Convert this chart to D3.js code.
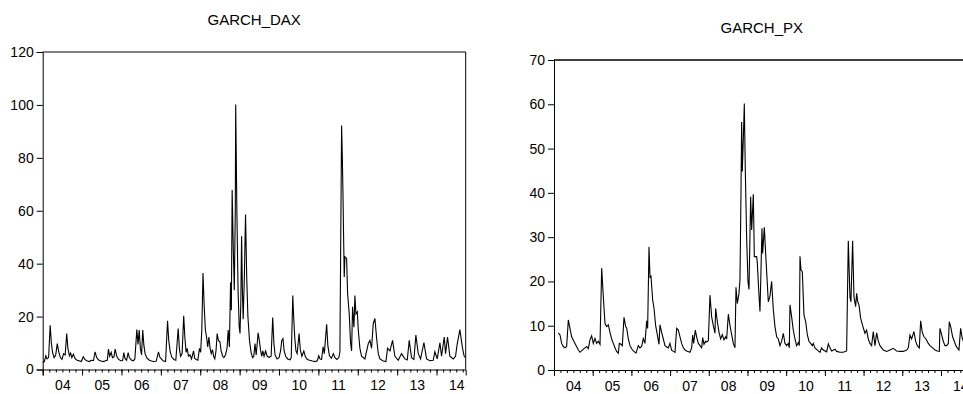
<!DOCTYPE html>
<html>
<head>
<meta charset="utf-8">
<script src="https://cdn.jsdelivr.net/npm/d3@7"></script>
<style>
  html, body { margin: 0; padding: 0; background: #fff; }
  svg { display: block; }
</style>
</head>
<body>
<svg id="chart" width="963" height="394"></svg>
<script>
// year labels on the time axis
const yearLabels = ['04', '05', '06', '07', '08', '09', '10', '11', '12', '13', '14'];
const daxTicks = [0, 20, 40, 60, 80, 100, 120];
const pxTicks = [0, 10, 20, 30, 40, 50, 60, 70];

// [decimal year, conditional variance]
const daxSeries = [
  [2004.00, 2.6], [2004.04, 3.0], [2004.08, 5.2], [2004.11, 4.0], [2004.15, 4.5], [2004.19, 16.7],
  [2004.22, 10], [2004.25, 6.5], [2004.29, 4.5], [2004.33, 5.5], [2004.37, 9.8], [2004.41, 6.5],
  [2004.45, 4.5], [2004.49, 3.8], [2004.53, 6.0], [2004.57, 5.5], [2004.61, 13.6], [2004.64, 8],
  [2004.68, 5.2], [2004.71, 6.2], [2004.74, 4.5], [2004.78, 5.8], [2004.82, 4.2], [2004.86, 3.6],
  [2004.92, 3.3], [2004.98, 3.0], [2005.03, 4.8], [2005.07, 3.8], [2005.12, 3.3], [2005.18, 3.0],
  [2005.24, 3.5], [2005.29, 3.4], [2005.33, 6.7], [2005.37, 4.5], [2005.42, 3.6], [2005.48, 3.2],
  [2005.54, 3.0], [2005.60, 3.3], [2005.64, 3.5], [2005.67, 7.7], [2005.70, 5.0], [2005.74, 6.5],
  [2005.77, 4.5], [2005.81, 4.8], [2005.84, 7.7], [2005.88, 5.0], [2005.93, 3.8], [2005.98, 3.3],
  [2006.03, 3.4], [2006.06, 6.4], [2006.09, 4.2], [2006.13, 3.5], [2006.17, 6.4], [2006.20, 4.5],
  [2006.25, 3.6], [2006.30, 3.3], [2006.34, 4.0], [2006.39, 15.1], [2006.42, 9.5], [2006.45, 14.9],
  [2006.48, 8.0], [2006.51, 5.5], [2006.54, 14.9], [2006.57, 9], [2006.60, 6.0], [2006.64, 4.5],
  [2006.70, 3.6], [2006.76, 3.2], [2006.82, 3.0], [2006.88, 3.1], [2006.94, 6.7], [2006.97, 4.8],
  [2007.02, 3.8], [2007.07, 3.2], [2007.12, 3.0], [2007.17, 18.4], [2007.20, 11], [2007.24, 6.5],
  [2007.28, 4.6], [2007.33, 3.8], [2007.38, 3.5], [2007.44, 15.5], [2007.47, 8], [2007.50, 5],
  [2007.54, 6], [2007.58, 20.3], [2007.61, 12], [2007.64, 6.5], [2007.67, 8], [2007.70, 5.0],
  [2007.74, 5.5], [2007.78, 4.0], [2007.83, 7.0], [2007.86, 4.2], [2007.90, 3.8], [2007.94, 3.5],
  [2007.98, 8], [2008.01, 6.5], [2008.04, 15], [2008.07, 36.5], [2008.10, 24], [2008.13, 15],
  [2008.16, 12.3], [2008.19, 8.5], [2008.22, 12.3], [2008.25, 8], [2008.28, 6], [2008.31, 7.5],
  [2008.34, 5], [2008.37, 4], [2008.40, 7], [2008.43, 13.6], [2008.46, 11], [2008.50, 10.5],
  [2008.53, 7], [2008.57, 5], [2008.60, 4.5], [2008.64, 5.5], [2008.68, 8], [2008.71, 14.9],
  [2008.74, 8.5], [2008.77, 33], [2008.79, 22.4], [2008.81, 67.8], [2008.84, 45], [2008.865, 30],
  [2008.89, 60], [2008.90, 100.2], [2008.93, 60], [2008.96, 30], [2008.99, 16], [2009.01, 13.6],
  [2009.03, 25], [2009.05, 50.4], [2009.07, 30], [2009.09, 19], [2009.12, 35], [2009.15, 58.6],
  [2009.18, 35], [2009.21, 20], [2009.25, 11], [2009.29, 6.5], [2009.33, 4.5], [2009.36, 5],
  [2009.39, 9.8], [2009.42, 5.5], [2009.47, 13.9], [2009.50, 11], [2009.53, 7.5], [2009.56, 5],
  [2009.59, 7], [2009.62, 5], [2009.66, 7], [2009.70, 5], [2009.75, 4.6], [2009.80, 5.0],
  [2009.84, 19.6], [2009.87, 10], [2009.90, 5.5], [2009.95, 4.0], [2010.00, 4.5], [2010.04, 7],
  [2010.07, 11], [2010.10, 11.7], [2010.13, 7], [2010.17, 5], [2010.22, 4.0], [2010.28, 3.7],
  [2010.31, 4.5], [2010.35, 28], [2010.37, 20.5], [2010.40, 12], [2010.43, 7], [2010.46, 6],
  [2010.51, 13.6], [2010.54, 7.5], [2010.58, 5], [2010.63, 7], [2010.67, 4.8], [2010.72, 3.8],
  [2010.78, 3.5], [2010.85, 3.2], [2010.92, 3.0], [2010.97, 3.3], [2011.01, 5.2], [2011.04, 4.0],
  [2011.08, 3.8], [2011.12, 8.6], [2011.15, 6], [2011.21, 17.1], [2011.24, 9], [2011.28, 5.2],
  [2011.33, 4.3], [2011.38, 6], [2011.42, 4.5], [2011.47, 3.8], [2011.52, 4.5], [2011.546, 6.7],
  [2011.589, 92.2], [2011.606, 81.4], [2011.623, 67.2], [2011.64, 50], [2011.656, 35], [2011.673, 42.6],
  [2011.716, 42], [2011.741, 28.8], [2011.783, 21], [2011.817, 10], [2011.843, 7], [2011.868, 23.7],
  [2011.902, 16], [2011.927, 28], [2011.953, 21], [2011.987, 21.8], [2012.012, 15], [2012.054, 8],
  [2012.096, 5], [2012.181, 4], [2012.266, 9.8], [2012.308, 11], [2012.35, 8], [2012.393, 17.4],
  [2012.435, 19.3], [2012.477, 12], [2012.52, 6], [2012.562, 4], [2012.646, 3.2], [2012.714, 3.0],
  [2012.756, 8], [2012.816, 7], [2012.883, 11], [2012.942, 5], [2013.027, 3.5], [2013.111, 6],
  [2013.196, 4], [2013.256, 3.6], [2013.306, 11], [2013.365, 4.5], [2013.425, 3.8], [2013.475, 13],
  [2013.535, 6], [2013.594, 4], [2013.679, 10.2], [2013.746, 4], [2013.831, 3.3], [2013.915, 3.5],
  [2013.958, 6.7], [2014.017, 4], [2014.085, 10.1], [2014.127, 5], [2014.195, 12.3], [2014.228, 6],
  [2014.279, 12.3], [2014.338, 5], [2014.423, 4], [2014.482, 5], [2014.524, 9.6], [2014.592, 15.1],
  [2014.66, 8], [2014.702, 5], [2014.736, 4.5]
];

const pxSeries = [
  [2004.112, 8.4], [2004.155, 7.9], [2004.198, 6], [2004.241, 5.3], [2004.284, 5], [2004.327, 5.3],
  [2004.37, 11.3], [2004.413, 9.4], [2004.456, 7.5], [2004.543, 6], [2004.629, 4.5], [2004.672, 4],
  [2004.758, 4.7], [2004.801, 5], [2004.844, 5.3], [2004.887, 4.8], [2004.93, 6.8], [2004.973, 7.7],
  [2005.016, 6], [2005.059, 7.1], [2005.102, 6], [2005.146, 6.5], [2005.189, 5.8], [2005.232, 23],
  [2005.275, 16.5], [2005.318, 10.5], [2005.361, 9.8], [2005.404, 10.2], [2005.447, 8.5], [2005.49, 7],
  [2005.533, 6], [2005.576, 5], [2005.619, 4.2], [2005.662, 3.8], [2005.688, 6], [2005.731, 5.8],
  [2005.766, 5.5], [2005.809, 11.9], [2005.852, 9.8], [2005.878, 9.5], [2005.921, 7], [2005.964, 5.5],
  [2006.007, 4.8], [2006.05, 4.3], [2006.119, 3.8], [2006.179, 5.5], [2006.222, 5], [2006.265, 5.3],
  [2006.308, 7.1], [2006.351, 6], [2006.394, 11.1], [2006.42, 9.4], [2006.455, 27.8], [2006.481, 21],
  [2006.506, 21.2], [2006.55, 15.8], [2006.584, 14], [2006.627, 10], [2006.67, 8], [2006.713, 5.8],
  [2006.739, 10.2], [2006.782, 8.5], [2006.825, 7], [2006.868, 5.5], [2006.911, 5.2], [2006.954, 5],
  [2006.997, 6], [2007.04, 4.5], [2007.084, 4.2], [2007.127, 4], [2007.17, 9.4], [2007.213, 9],
  [2007.256, 7.5], [2007.299, 6], [2007.342, 5], [2007.385, 4.5], [2007.428, 4.3], [2007.514, 4],
  [2007.557, 5], [2007.583, 7.9], [2007.609, 6], [2007.652, 9], [2007.686, 7.5], [2007.73, 6],
  [2007.773, 5.5], [2007.816, 5], [2007.842, 7.3], [2007.876, 5.8], [2007.919, 6.5], [2007.945, 6.3],
  [2007.988, 6.6], [2008.031, 16.9], [2008.074, 12], [2008.117, 10], [2008.16, 8.3], [2008.177, 13.9],
  [2008.22, 11], [2008.264, 8.5], [2008.307, 7], [2008.35, 8], [2008.393, 6.8], [2008.436, 7.5],
  [2008.462, 7], [2008.505, 12.6], [2008.548, 10], [2008.591, 8], [2008.634, 6], [2008.677, 5],
  [2008.703, 18.7], [2008.737, 15], [2008.78, 17.3], [2008.806, 20.3], [2008.832, 40], [2008.849, 56],
  [2008.866, 44.8], [2008.892, 52], [2008.918, 60.2], [2008.944, 45], [2008.978, 30], [2009.013, 20],
  [2009.039, 18.2], [2009.082, 39.1], [2009.108, 31.6], [2009.151, 39.7], [2009.177, 25.6], [2009.237, 25.6],
  [2009.254, 24.2], [2009.29, 18], [2009.323, 13.2], [2009.375, 32], [2009.392, 26.3], [2009.435, 32.2],
  [2009.478, 25], [2009.538, 15.4], [2009.581, 16.7], [2009.624, 20], [2009.667, 13.7], [2009.71, 9.8],
  [2009.754, 7.5], [2009.797, 7], [2009.84, 5.5], [2009.883, 6.5], [2009.926, 8.3], [2009.969, 6],
  [2010.012, 5.5], [2010.055, 6], [2010.081, 5], [2010.098, 14.7], [2010.141, 12], [2010.184, 9],
  [2010.227, 7], [2010.27, 5.5], [2010.313, 6.2], [2010.339, 5.5], [2010.357, 25.7], [2010.382, 22.6],
  [2010.417, 22.2], [2010.46, 12.4], [2010.503, 11], [2010.546, 8], [2010.589, 6.5], [2010.632, 6],
  [2010.675, 5.5], [2010.701, 6], [2010.744, 5], [2010.83, 4.3], [2010.873, 4], [2010.916, 5],
  [2010.959, 4.5], [2011.046, 4.1], [2011.089, 5.9], [2011.132, 5], [2011.175, 4.3], [2011.261, 4.7],
  [2011.304, 4.2], [2011.39, 4], [2011.476, 4], [2011.562, 4.3], [2011.605, 29.2], [2011.648, 16.5],
  [2011.674, 15.4], [2011.717, 29.2], [2011.752, 16.5], [2011.795, 14.3], [2011.821, 17.3], [2011.847, 15.5],
  [2011.881, 14.7], [2011.924, 11.7], [2011.976, 10], [2012.036, 8.3], [2012.079, 9], [2012.122, 7],
  [2012.165, 6], [2012.208, 5.5], [2012.251, 8.7], [2012.295, 5.5], [2012.338, 8.4], [2012.381, 6.5],
  [2012.424, 5.5], [2012.467, 5], [2012.51, 4.5], [2012.596, 4.2], [2012.682, 4.5], [2012.768, 4.9],
  [2012.854, 4.3], [2012.941, 4.2], [2013.027, 4.2], [2013.113, 4.5], [2013.156, 5], [2013.199, 7.9],
  [2013.242, 7], [2013.302, 8.7], [2013.345, 6.5], [2013.388, 5.5], [2013.44, 5], [2013.475, 11.1],
  [2013.518, 8.5], [2013.561, 7.5], [2013.613, 7], [2013.673, 6], [2013.716, 5.5], [2013.785, 5],
  [2013.845, 4.5], [2013.905, 4.3], [2013.957, 4.2], [2013.974, 9.4], [2014.017, 8], [2014.06, 6.5],
  [2014.103, 5.5], [2014.146, 5.5], [2014.19, 6], [2014.215, 10.9], [2014.258, 9.5], [2014.301, 7.5],
  [2014.344, 6.5], [2014.387, 5.5], [2014.422, 5], [2014.465, 4.5], [2014.508, 9.4], [2014.543, 7.5],
  [2014.577, 6.5], [2014.62, 6], [2014.68, 5.5], [2014.74, 5.2]
];

const timeDomain = [2004, 2014.74];

const panels = [
  { title: 'GARCH_DAX', data: daxSeries, ticks: daxTicks, yMax: 120,
    left: 42.7, right: 465.7, top: 52, bottom: 369.5, titleY: 25, heavyTop: false },
  { title: 'GARCH_PX', data: pxSeries, ticks: pxTicks, yMax: 70,
    left: 554, right: 969.6, top: 60, bottom: 370, titleY: 33, heavyTop: true }
];

const svg = d3.select('#chart')
  .style('font-family', '"Liberation Sans", Arial, sans-serif');

panels.forEach(p => {
  const x = d3.scaleLinear().domain(timeDomain).range([p.left, p.right]);
  const y = d3.scaleLinear().domain([0, p.yMax]).range([p.bottom, p.top]);
  const g = svg.append('g');

  // title
  g.append('text')
    .attr('x', (p.left + p.right) / 2)
    .attr('y', p.titleY)
    .attr('text-anchor', 'middle')
    .attr('font-size', '15px')
    .attr('fill', '#000')
    .text(p.title);

  // series
  const line = d3.line().x(d => x(d[0])).y(d => y(d[1]));
  g.append('path')
    .datum(p.data)
    .attr('d', line)
    .attr('fill', 'none')
    .attr('stroke', '#000')
    .attr('stroke-width', 1.1);

  // frame
  g.append('line')
    .attr('x1', p.left).attr('x2', p.right)
    .attr('y1', p.top).attr('y2', p.top)
    .attr('stroke', p.heavyTop ? '#404040' : '#000')
    .attr('stroke-width', p.heavyTop ? 2 : 1);
  g.append('line')
    .attr('x1', p.right).attr('x2', p.right)
    .attr('y1', p.top).attr('y2', p.bottom)
    .attr('stroke', '#000');

  // y axis
  g.append('g')
    .attr('transform', `translate(${p.left},0)`)
    .call(d3.axisLeft(y).tickValues(p.ticks).tickSize(6).tickPadding(3).tickFormat(d3.format('d')))
    .call(a => a.select('.domain').attr('stroke', '#000'))
    .call(a => a.selectAll('text').attr('font-size', '14px').attr('fill', '#000').attr('font-family', null));

  // x axis: year ticks, two-month minor ticks, labels mid-year
  const years = d3.range(2004, 2015);
  const minor = d3.range(0, 65).map(i => 2004 + i / 6).filter(t => t <= timeDomain[1]);
  g.append('g')
    .attr('transform', `translate(0,${p.bottom})`)
    .call(d3.axisBottom(x).tickValues(minor).tickSize(3).tickFormat(''))
    .call(a => a.select('.domain').remove());
  g.append('g')
    .attr('transform', `translate(0,${p.bottom})`)
    .call(d3.axisBottom(x).tickValues(years).tickSize(6).tickFormat(''))
    .call(a => a.select('.domain').attr('stroke', '#000'));
  g.append('g')
    .attr('transform', `translate(0,${p.bottom})`)
    .call(d3.axisBottom(x).tickValues(years.map(v => v + 0.5)).tickSize(0).tickPadding(11)
      .tickFormat((d, i) => yearLabels[i]))
    .call(a => a.select('.domain').remove())
    .call(a => a.selectAll('text').attr('font-size', '14px').attr('fill', '#000').attr('font-family', null));
  g.selectAll('.tick line').attr('stroke', '#000');
});
</script>
</body>
</html>
